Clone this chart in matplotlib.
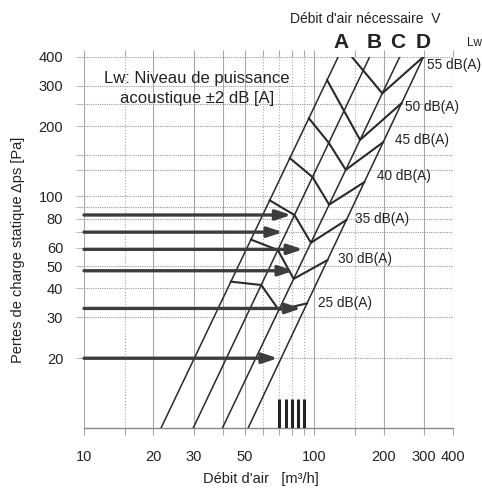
import numpy as np
import matplotlib
matplotlib.use('Agg')
from matplotlib import pyplot as plt

plt.rcParams['font.family'] = ['Liberation Sans', 'DejaVu Sans']

# straight lines A-D (flow at 10 Pa and at 400 Pa)
line_names = ['A', 'B', 'C', 'D']
line_flow_at_10 = [21.6, 29.8, 39.9, 51.6]
line_flow_at_400 = [127, 174, 235, 298]

# noise level curves: vertices given as (line, pressure)
db_levels = [55, 50, 45, 40, 35, 30, 25]
db_vertex_lines = [['A', 'C', 'D'],
                   ['A', 'C', 'D'],
                   ['A', 'B', 'C', 'D'],
                   ['A', 'B', 'C', 'D'],
                   ['A', 'B', 'C', 'D'],
                   ['A', 'B', 'C', 'D'],
                   ['A', 'B', 'C', 'D']]
db_vertex_pressure = [[443, 278, 400],
                      [317, 175, 252],
                      [217, 170, 130, 171],
                      [146, 121, 92, 115],
                      [96, 83, 63, 79],
                      [65, 58.6, 44, 53],
                      [42.8, 41.4, 32.3, 34.5]]
db_label_flow = [308, 248, 224, 187, 150, 127, 104]
db_label_pressure = [368, 243, 175, 122, 79.5, 53.6, 34.7]

# horizontal arrows
arrow_pressure = [83, 70, 59, 47.7, 32.8, 20]
arrow_tip_flow = [79.4, 73, 89.3, 81.5, 87.7, 69.4]

# short bars at the bottom
bar_flow = [70, 75, 80, 85, 90]
bar_top = 13.4

x_major = [10, 20, 30, 40, 50, 100, 200, 300, 400]
x_minor = [15, 60, 70, 80, 90, 150]
x_labels = {10: '10', 20: '20', 30: '30', 50: '50', 100: '100', 200: '200', 300: '300', 400: '400'}
y_labeled = [20, 30, 40, 50, 60, 80, 100, 200, 300, 400]
y_grid = [20, 30, 40, 50, 60, 70, 80, 90, 100, 130, 150, 200, 250, 300, 400]


def flow_on_line(name, p):
    i = line_names.index(name)
    t = (np.log10(p) - 1) / np.log10(40)
    lo, hi = np.log10(line_flow_at_10[i]), np.log10(line_flow_at_400[i])
    return 10 ** (lo + t * (hi - lo))


W, H = 482, 490
fig = plt.figure(figsize=(W / 100, H / 100), dpi=100)
ax = fig.add_axes([84 / W, 1 - 428 / H, (453 - 84) / W, (428 - 56.7) / H])
ax.set_xscale('log')
ax.set_yscale('log')
ax.set_xlim(10, 400)
ax.set_ylim(10, 400)

for s in ['top', 'left', 'right']:
    ax.spines[s].set_visible(False)
ax.spines['bottom'].set_color('#888888')
ax.spines['bottom'].set_linewidth(1.0)

grid_c = '#a8a8a8'
for xv in x_major:
    ax.axvline(xv, color=grid_c, lw=0.8, zorder=1)
for xv in x_minor:
    ax.axvline(xv, color=grid_c, lw=0.8, ls=':', zorder=1)
for yv in y_grid:
    ax.axhline(yv, color='#999999', lw=0.8, ls=(0, (1, 1)), zorder=1)

ax.set_xticks(x_major)
ax.set_xticklabels([x_labels.get(v, '') for v in x_major])
ax.set_xticks(x_minor, minor=True)
ax.set_xticklabels([], minor=True)
ax.set_yticks(y_labeled)
ax.set_yticklabels([str(v) for v in y_labeled])
ax.set_yticks([v for v in y_grid if v not in y_labeled], minor=True)
ax.set_yticklabels([], minor=True)
ax.tick_params(axis='x', which='both', length=5, width=0.8, color=grid_c,
               pad=11, labelsize=10.5, labelcolor='#222222', top=True)
ax.tick_params(axis='x', which='both', labeltop=False)
ax.tick_params(axis='y', which='both', length=6, width=0.8, color='#bbbbbb',
               pad=9, labelsize=10.5, labelcolor='#222222')

# lines A-D
for i in range(len(line_names)):
    ax.plot([line_flow_at_10[i], line_flow_at_400[i]], [10, 400],
            color='#2a2a2a', lw=1.1, zorder=3)

# noise curves
for k in range(len(db_levels)):
    xs = [flow_on_line(n, p) for n, p in zip(db_vertex_lines[k], db_vertex_pressure[k])]
    ax.plot(xs, db_vertex_pressure[k], color='#2a2a2a', lw=1.5, zorder=3,
            solid_joinstyle='miter')
    ax.text(db_label_flow[k], db_label_pressure[k], f'{db_levels[k]} dB(A)',
            fontsize=9.8, color='#222222', va='center', ha='left',
            clip_on=False, zorder=4)

# arrows
for p, tip in zip(arrow_pressure, arrow_tip_flow):
    ax.annotate('', xy=(tip, p), xytext=(10, p),
                arrowprops=dict(arrowstyle='-|>,head_length=0.9,head_width=0.3',
                                lw=2.4, color='#3d3d3d', shrinkA=0, shrinkB=0,
                                mutation_scale=10),
                zorder=5)

ax.vlines(bar_flow, 10, bar_top, color='#222222', lw=2.2, zorder=4)


def ftext(xp, yp, s, **kw):
    fig.text(xp / W, 1 - yp / H, s, **kw)


ftext(290, 19, "Débit d'air nécessaire  V", fontsize=10, color='#222222', va='center', ha='left')
for name, xp in zip(line_names, [341, 374, 398, 423]):
    ftext(xp, 43, name, fontsize=15, fontweight='bold', color='#222222', va='center', ha='center')
ftext(474, 43, 'Lw', fontsize=8.5, color='#222222', va='center', ha='center')
ftext(197, 79, 'Lw: Niveau de puissance', fontsize=12, color='#222222', va='center', ha='center')
ftext(197, 99, 'acoustique ±2 dB [A]', fontsize=12, color='#222222', va='center', ha='center')
ftext(261, 479, "Débit d'air   [m³/h]", fontsize=10.5, color='#222222', va='center', ha='center')
ftext(18, 250, 'Pertes de charge statique Δps [Pa]', fontsize=10.5, color='#222222',
      va='center', ha='center', rotation=90)

fig.savefig('out.png', dpi=100)
